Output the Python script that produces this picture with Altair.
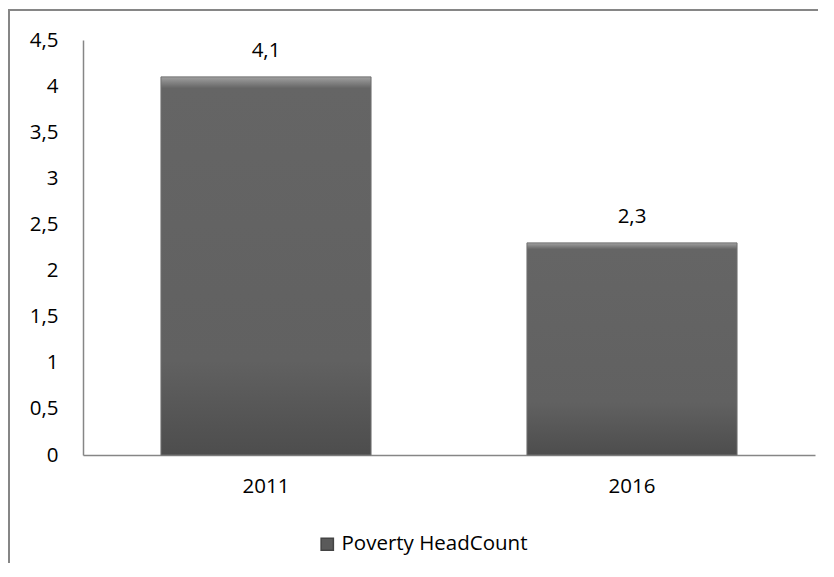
import altair as alt
import pandas as pd

years = ["2011", "2016"]
values = [4.1, 2.3]
labels = ["4,1", "2,3"]
series = "Poverty HeadCount"
y_ticks = [0, 0.5, 1, 1.5, 2, 2.5, 3, 3.5, 4, 4.5]

df = pd.DataFrame({"year": years, "value": values, "label": labels, "series": [series] * len(years)})

FONT = "Open Sans"
FS = 20.5

base = alt.Chart(df)

x_enc = alt.X("year:N", scale=alt.Scale(paddingInner=0.426, paddingOuter=0.213),
              axis=alt.Axis(title=None, labelAngle=0, ticks=False, domainColor="#868686", domainWidth=1.5,
                            labelFontSize=FS, labelFont=FONT, labelColor="#000000", labelPadding=21))
y_enc = alt.Y("value:Q", scale=alt.Scale(domain=[0, 4.5], nice=False),
              axis=alt.Axis(title=None, values=y_ticks, grid=False, ticks=False, domainColor="#868686", domainWidth=1.5,
                            labelFontSize=FS, labelFont=FONT, labelColor="#000000", labelPadding=25,
                            labelExpr="replace(format(datum.value, ''), '.', ',')"))

# invisible layer that carries the legend
legend_layer = base.mark_bar(opacity=0).encode(
    x=x_enc, y=y_enc,
    fill=alt.Fill("series:N", scale=alt.Scale(range=["#5a5a5a"]),
                  legend=alt.Legend(title=None, orient="none", legendX=234, legendY=494,
                                    symbolType="square", symbolSize=150, symbolStrokeColor="#444",
                                    symbolOpacity=1, labelLimit=0, symbolOffset=0, labelOffset=4,
                                    labelFontSize=FS, labelFont=FONT, labelColor="#000000")),
)

bars = base.mark_bar(
    color=alt.Gradient(
        gradient="linear", x1=0, x2=0, y1=0, y2=1,
        stops=[alt.GradientStop(color="#a0a0a0", offset=0),
               alt.GradientStop(color="#656565", offset=0.03),
               alt.GradientStop(color="#616161", offset=0.75),
               alt.GradientStop(color="#4d4d4d", offset=1)]),
    stroke="#707070", strokeWidth=1,
).encode(x="year:N", y="value:Q")

text = base.mark_text(baseline="bottom", dy=-16, fontSize=FS, font=FONT, color="#000000").encode(
    x="year:N", y="value:Q", text="label:N"
)

border = alt.Chart(pd.DataFrame({"a": [0]})).mark_rect(
    fill=None, stroke="#868686", strokeWidth=2
).encode(
    x=alt.value(-74), x2=alt.value(800), y=alt.value(-30), y2=alt.value(600)
)

chart = alt.layer(border, legend_layer, bars, text).properties(
    width=732, height=415,
    padding={"left": 75, "top": 32, "right": 3, "bottom": 108},
    autosize=alt.AutoSizeParams(type="none"),
    background="white"
).configure_view(stroke=None)

chart.save("out.html", embed_options={"renderer": "svg", "actions": False})
